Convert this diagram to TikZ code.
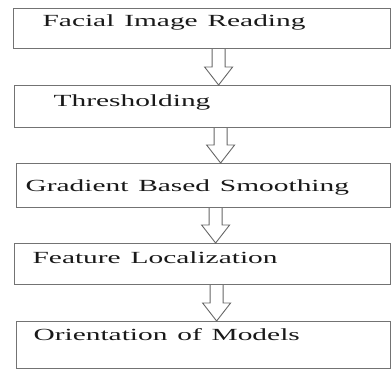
\documentclass[tikz,border=0pt]{standalone}
\usepackage{fontspec}
\usepackage{graphicx}
\setmainfont{Liberation Serif}
\usetikzlibrary{calc}

\newcommand{\stagetext}[1]{\scalebox{1.73}[1]{#1}}

\begin{document}
\begin{tikzpicture}[x=1pt, y=-1pt,
    stage/.style={draw=black!55, line width=1.2pt, anchor=north west,
        inner ysep=0pt, align=left, text=black!90, font=\fontsize{17}{20}\selectfont},
    hollow/.style={draw=black!60, line width=0.9pt, to path={
        let \p1=(\tikztostart), \p2=(\tikztotarget) in
        (\x1-6.5pt,\y1) -- (\x1-6.5pt,\y2+18pt) -- (\x1-14pt,\y2+18pt)
        -- (\x1,\y2) -- (\x1+14pt,\y2+18pt) -- (\x1+6.5pt,\y2+18pt)
        -- (\x1+6.5pt,\y1)}}]
    \useasboundingbox (0,0) rectangle (391,370);
    % Facial image reading
    \node[stage, inner xsep=29pt, text width=319pt, text height=18pt, text depth=22pt]
        (read) at (13,8) {\stagetext{Facial Image Reading}};
    % Thresholding
    \node[stage, inner xsep=39pt, text width=298pt, text height=21pt, text depth=21pt]
        (thresh) at (14,85) {\stagetext{Thresholding}};
    % Gradient based smoothing
    \node[stage, inner xsep=9pt, text width=356pt, text height=28pt, text depth=16pt]
        (smooth) at (16,163) {\stagetext{Gradient Based Smoothing}};
    % Feature localization
    \node[stage, inner xsep=18pt, text width=340pt, text height=20pt, text depth=21pt]
        (feature) at (14,243) {\stagetext{Feature Localization}};
    % Orientation of models
    \node[stage, inner xsep=17pt, text width=340pt, text height=19pt, text depth=28pt]
        (orient) at (16,321) {\stagetext{Orientation of Models}};

    % Hollow arrows between stages
    \draw[hollow] ([xshift=16.5pt]read.south) to ([xshift=16.5pt]thresh.north);
    \draw[hollow] ([xshift=18pt]thresh.south) to ([xshift=18pt]smooth.north);
    \draw[hollow] ([xshift=12pt]smooth.south) to ([xshift=12pt]feature.north);
    \draw[hollow] ([xshift=14pt]feature.south) to ([xshift=14pt]orient.north);
\end{tikzpicture}
\end{document}
